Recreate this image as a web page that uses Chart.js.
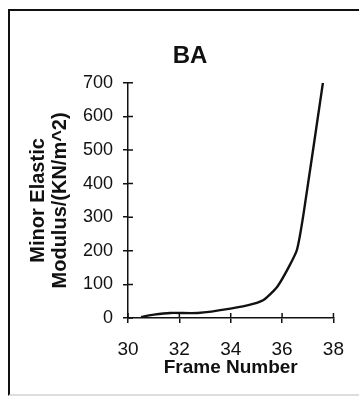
<!DOCTYPE html>
<html>
<head>
<meta charset="utf-8">
<script src="https://cdn.jsdelivr.net/npm/chart.js@4"></script>
<style>
  html, body { margin: 0; padding: 0; background: #fff; }
  body { width: 359px; height: 396px; position: relative; overflow: hidden; }
  #frame {
    position: absolute; left: 8px; top: 9px; width: 360px; height: 383px;
    border-left: 2px solid #111; border-top: 2px solid #111; border-bottom: 2px solid #ddd;
  }
  #wrap { position: absolute; left: 0; top: 0; width: 359px; height: 396px; }
</style>
</head>
<body>
<div id="frame"></div>
<div id="wrap"><canvas id="chart"></canvas></div>
<script>
// ==================== DATA ====================
const frames  = [30.51, 31.01, 31.65, 32.72, 33.99, 34.87, 35.32, 35.82, 36.27, 36.58, 36.84, 37.59];
const modulus = [3, 10, 15, 15, 28, 42, 56, 94, 153, 203, 312, 700];
const xTicks  = [30, 32, 34, 36, 38];
const yTicks  = [0, 100, 200, 300, 400, 500, 600, 700];

const FONT = "'Liberation Sans', Arial, Helvetica, sans-serif";

// ticks in the reference cross the axis, chart.js only draws them outward
const innerTicks = {
  id: 'innerTicks',
  afterDraw(chart) {
    const ctx = chart.ctx;
    const area = chart.chartArea;
    const xs = chart.scales.x, ys = chart.scales.y;
    ctx.save();
    ctx.strokeStyle = '#111';
    ctx.lineWidth = 1.5;
    ctx.beginPath();
    yTicks.forEach(v => {
      const py = ys.getPixelForValue(v);
      ctx.moveTo(area.left, py);
      ctx.lineTo(area.left + 5, py);
    });
    xTicks.forEach(v => {
      const px = xs.getPixelForValue(v);
      ctx.moveTo(px, area.bottom);
      ctx.lineTo(px, area.bottom - 5);
    });
    ctx.stroke();
    ctx.restore();
  }
};

new Chart(document.getElementById('chart'), {
  type: 'line',
  data: {
    datasets: [{
      data: frames.map((f, i) => ({ x: f, y: modulus[i] })),
      borderColor: '#111',
      borderWidth: 2.4,
      pointRadius: 0,
      tension: 0.2,
      fill: false
    }]
  },
  options: {
    responsive: true,
    maintainAspectRatio: false,
    animation: false,
    layout: { padding: { left: 21, right: 0, top: 10, bottom: 17 } },
    plugins: {
      legend: { display: false },
      tooltip: { enabled: false },
      title: {
        display: true,
        text: 'BA',
        color: '#111',
        font: { family: FONT, size: 24, weight: 'bold' },
        padding: { top: 32, bottom: 12 }
      }
    },
    scales: {
      x: {
        type: 'linear',
        min: 30,
        max: 38,
        afterBuildTicks: s => { s.ticks = xTicks.map(v => ({ value: v })); },
        afterFit: s => { s.height = 61; },
        ticks: {
          color: '#111',
          padding: 15,
          font: { family: FONT, size: 19 }
        },
        grid: { display: true, drawOnChartArea: false, drawTicks: true, tickLength: 5, color: '#111', lineWidth: 1.5 },
        border: { display: true, color: '#111', width: 1.5 },
        title: {
          display: true,
          text: 'Frame Number',
          color: '#111',
          font: { family: FONT, size: 19, weight: 'bold', lineHeight: 1.2 },
          padding: { top: 0, bottom: 0 }
        }
      },
      y: {
        min: 0,
        max: 700,
        afterBuildTicks: s => { s.ticks = yTicks.map(v => ({ value: v })); },
        afterFit: s => { s.width = 107; },
        ticks: {
          color: '#111',
          padding: 10,
          font: { family: FONT, size: 18 }
        },
        grid: { display: true, drawOnChartArea: false, drawTicks: true, tickLength: 5, color: '#111', lineWidth: 1.5 },
        border: { display: true, color: '#111', width: 1.5 },
        title: {
          display: true,
          text: ['Minor Elastic', 'Modulus/(KN/m^2)'],
          color: '#111',
          font: { family: FONT, size: 20, weight: 'bold', lineHeight: 1.1 },
          padding: { top: 6, bottom: 0 }
        }
      },
      // empty right margin so the title sits where it does in the original
      spacer: {
        position: 'right',
        display: true,
        ticks: { display: false },
        grid: { display: false },
        border: { display: false },
        afterFit: s => { s.width = 21; }
      }
    }
  },
  plugins: [innerTicks]
});
</script>
</body>
</html>
